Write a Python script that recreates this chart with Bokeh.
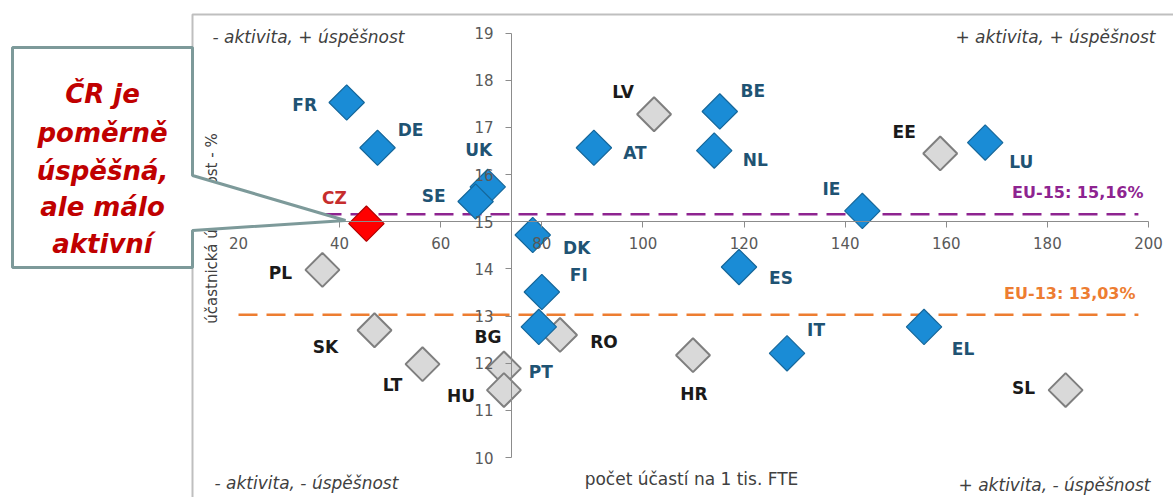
import numpy as np
from bokeh.plotting import figure
from bokeh.models import Range1d, FixedTicker, PolyAnnotation, Label, ColumnDataSource
from bokeh.core.properties import value
from bokeh.embed import file_html
from bokeh.resources import INLINE

# ---------------- data ----------------
eu15_countries = ["FR", "DE", "UK", "SE", "DK", "FI", "PT", "AT", "BE", "NL", "ES", "IT", "IE", "EL", "LU"]
eu15_activity = [41.4, 47.5, 69.3, 66.9, 78.2, 80.0, 79.4, 90.3, 115.2, 114.1, 119.0, 128.5, 143.4, 155.6, 167.7]
eu15_success = [17.53, 16.57, 15.74, 15.43, 14.72, 13.51, 12.77, 16.57, 17.34, 16.51, 14.04, 12.21, 15.23, 12.77, 16.68]

eu13_countries = ["PL", "SK", "LT", "BG", "HU", "RO", "HR", "LV", "EE", "SL"]
eu13_activity = [36.6, 46.9, 56.4, 72.5, 72.5, 83.6, 109.9, 102.2, 158.8, 183.6]
eu13_success = [13.98, 12.70, 11.98, 11.89, 11.43, 12.60, 12.17, 17.28, 16.45, 11.43]

cz_country = ["CZ"]
cz_activity = [45.3]
cz_success = [14.96]

eu15_avg = 15.16
eu13_avg = 13.03
eu15_avg_label = "EU-15: 15,16%"
eu13_avg_label = "EU-13: 13,03%"

x_ticks = [20, 40, 60, 80, 100, 120, 140, 160, 180, 200]
y_ticks = [10, 11, 12, 13, 14, 15, 16, 17, 18, 19]
x_cross = 74
y_cross = 15

x_title = "počet účastí na 1 tis. FTE"
y_title = "účastnická úspěšnost - %"
quadrants = ["- aktivita, + úspěšnost", "+ aktivita, + úspěšnost",
             "- aktivita, - úspěšnost", "+ aktivita, - úspěšnost"]
callout_lines = ["ČR je", "poměrně", "úspěšná,", "ale málo", "aktivní"]

# label offsets (screen px) for each country label relative to its marker
label_offsets = {
    "FR": (-42, 2), "DE": (33, -18), "UK": (-9, -37), "SE": (-42, -6), "DK": (44, 13),
    "FI": (37, -17), "PT": (2, 45), "AT": (41, 5), "BE": (33, -20), "NL": (41, 9),
    "ES": (42, 11), "IT": (29, -23), "IE": (-31, -22), "EL": (39, 22), "LU": (36, 19),
    "PL": (-42, 3), "SK": (-49, 17), "LT": (-30, 21), "BG": (-16, -31), "HU": (-43, 6),
    "RO": (44, 7), "HR": (1, 39), "LV": (-31, -22), "EE": (-36, -21), "SL": (-42, -2),
    "CZ": (-32, -26),
}

# ---------------- layout mapping ----------------
W, H = 1173, 497
PX0 = 0
sx = (1148 - 238) / 180.0
x_start = 20 - (238 - PX0) / sx
x_end = x_start + W / sx
sy = (457 - 32.7) / 9.0
y_end = 19 + (32.7 - PX0) / sy
y_start = y_end - H / sy


def X(px):
    return x_start + (px - PX0) / sx


def Y(py):
    return y_end - (py - PX0) / sy


p = figure(width=W, height=H, x_range=Range1d(x_start, x_end), y_range=Range1d(y_start, y_end),
           toolbar_location=None, output_backend="svg", min_border=0)
p.grid.visible = False
p.outline_line_color = None
p.background_fill_color = "white"
p.border_fill_color = "white"

AX = "#8C8C8C"
TL = "#595959"
FONT = "DejaVu Sans"

xa = p.xaxis[0]
xa.fixed_location = y_cross
xa.bounds = (20, 200)
xa.ticker = FixedTicker(ticks=x_ticks)
xa.major_tick_in = 0
xa.major_tick_out = 6
xa.minor_tick_line_color = None
xa.major_label_standoff = 9
xa.major_label_text_font = FONT
xa.major_label_text_font_size = "15px"
xa.major_label_text_color = TL
xa.axis_line_color = AX
xa.major_tick_line_color = AX

ya = p.yaxis[0]
ya.fixed_location = x_cross
ya.bounds = (10, 19)
ya.ticker = FixedTicker(ticks=y_ticks)
ya.major_tick_in = 0
ya.major_tick_out = 6
ya.minor_tick_line_color = None
ya.major_label_standoff = 12
ya.major_label_text_font = FONT
ya.major_label_text_font_size = "15px"
ya.major_label_text_color = TL
ya.axis_line_color = AX
ya.major_tick_line_color = AX

# chart frame border (light gray)
p.line([X(192), X(192), X(1200)], [Y(520), Y(14), Y(14)], line_color="#BFBFBF", line_width=2)

# axis titles (y title partly hidden by callout)
p.text(x=[X(211)], y=[Y(228)], text=[y_title], angle=np.pi / 2, text_align="center",
       text_baseline="middle", text_font=value(FONT), text_font_size="15px", text_color="#404040")
p.text(x=[X(691)], y=[Y(478)], text=[x_title], text_align="center", text_baseline="middle",
       text_font=value(FONT), text_font_size="17px", text_color="#404040")

# quadrant labels
q_style = dict(text_baseline="middle", text_font=value(FONT), text_font_size="17px",
               text_font_style="italic", text_color="#404040")
p.text(x=[X(212)], y=[Y(36)], text=[quadrants[0]], text_align="left", **q_style)
p.text(x=[X(1155)], y=[Y(36)], text=[quadrants[1]], text_align="right", **q_style)
p.text(x=[X(214)], y=[Y(482)], text=[quadrants[2]], text_align="left", **q_style)
p.text(x=[X(1150)], y=[Y(484)], text=[quadrants[3]], text_align="right", **q_style)

# average lines
p.line([20, 198], [eu15_avg, eu15_avg], line_color="#8E2490", line_width=2.5, line_dash="19 9")
p.line([20, 198], [eu13_avg, eu13_avg], line_color="#ED7D31", line_width=2.5, line_dash="19 9")
p.text(x=[X(1143)], y=[eu15_avg], y_offset=-22, text=[eu15_avg_label], text_align="right",
       text_baseline="middle", text_font=value(FONT), text_font_size="16px",
       text_font_style="bold", text_color="#8E2490")
p.text(x=[X(1135)], y=[eu13_avg], y_offset=-21, text=[eu13_avg_label], text_align="right",
       text_baseline="middle", text_font=value(FONT), text_font_size="16px",
       text_font_style="bold", text_color="#ED7D31")

# markers
p.scatter(eu13_activity, eu13_success, marker="square", angle=np.pi / 4, size=24,
          fill_color="#D9D9D9", line_color="#7F7F7F", line_width=2)
p.scatter(eu15_activity, eu15_success, marker="square", angle=np.pi / 4, size=25,
          fill_color="#1A8CD6", line_color="#16679A", line_width=1.2)
p.scatter(cz_activity, cz_success, marker="square", angle=np.pi / 4, size=25,
          fill_color="#FF0000", line_color="#B00000", line_width=1.2)


def label_source(names, xs, ys):
    return ColumnDataSource(dict(
        x=xs, y=ys, text=names,
        dx=[label_offsets[n][0] for n in names],
        dy=[label_offsets[n][1] for n in names]))


lab_style = dict(x_offset="dx", y_offset="dy", text_align="center", text_baseline="middle",
                 text_font=value(FONT), text_font_size="17px", text_font_style="bold")
p.text(x="x", y="y", text="text", source=label_source(eu15_countries, eu15_activity, eu15_success),
       text_color="#1F5373", **lab_style)
p.text(x="x", y="y", text="text", source=label_source(eu13_countries, eu13_activity, eu13_success),
       text_color="#1A1A1A", **lab_style)
p.text(x="x", y="y", text="text", source=label_source(cz_country, cz_activity, cz_success),
       text_color="#C62D2D", **lab_style)

# callout box
callout = PolyAnnotation(
    xs=[X(12), X(192), X(192), X(345), X(192), X(192), X(12)],
    ys=[Y(47), Y(47), Y(175), Y(220), Y(230), Y(267), Y(267)],
    fill_color="white", fill_alpha=1.0, line_color="#7D9A9A", line_alpha=1.0, line_width=3)
p.add_layout(callout)

baselines = [93, 132, 170, 206, 243]
for line_text, b in zip(callout_lines, baselines):
    p.add_layout(Label(x=X(102), y=Y(b), text=line_text, text_align="center",
                       text_baseline="alphabetic", text_font=FONT, text_font_size="26px",
                       text_font_style="bold italic", text_color="#C00000"))

open("out.html", "w").write(file_html(p, INLINE))
